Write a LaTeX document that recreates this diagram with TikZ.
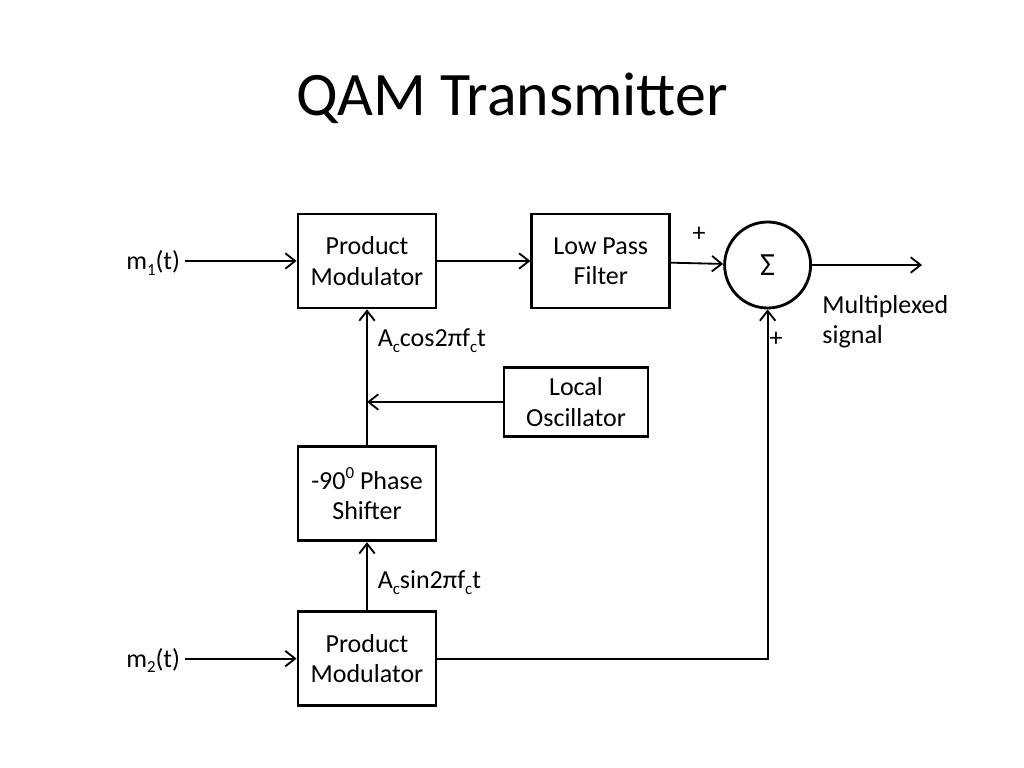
\documentclass[tikz,border=0pt]{standalone}
\usepackage{fontspec}
\setmainfont{Carlito}
\usetikzlibrary{shapes.geometric, arrows.meta, calc, positioning}
\newcommand{\lowsub}[1]{\raisebox{-0.45ex}{\fontsize{12}{12}\selectfont #1}}
\newcommand{\highsup}[1]{\raisebox{0.9ex}{\fontsize{12}{12}\selectfont #1}}
\tikzstyle{block} = [rectangle, line width=2pt, minimum width=3.45cm, minimum height=2.35cm, align=center, draw=black, font=\fontsize{18.5}{21.5}\selectfont]
\tikzstyle{txt} = [inner sep=1pt, font=\fontsize{18.5}{21.5}\selectfont]
\tikzstyle{arrow} = [line width=1.3pt,-{Straight Barb[length=7pt,width=11pt]}]

\begin{document}
\begin{tikzpicture}[node distance = 2.325cm, auto]
	\useasboundingbox (0,0) rectangle (25.6,-19.2);
	\node (title) at (12.8,-2.45) {\fontsize{44}{50}\selectfont QAM Transmitter};
	\node (pm1) [block] at (9.175,-6.525) {Product\\Modulator};
	\node (lpf) [block, right=of pm1] {Low Pass\\Filter};
	\node (sum) [circle, draw, line width=2pt, minimum size=2.15cm, right=1.3cm of lpf, yshift=-0.1cm, font=\fontsize{23}{25}\selectfont] {Σ};
	\node (ps) [block, below=3.4cm of pm1] {-90\highsup{0} Phase\\Shifter};
	\node (pm2) [block, below=1.7cm of ps] {Product\\Modulator};
	\node (lo) [block, minimum width=3.6cm, minimum height=1.725cm] at (14.4,-10.05) {Local\\Oscillator};
	\node (m1) [txt, inner sep=3pt, left=2.8cm of pm1, yshift=-0.05cm] {m\lowsub{1}(t)};
	\node (m2) [txt, inner sep=3pt, left=2.8cm of pm2, yshift=-0.05cm] {m\lowsub{2}(t)};
	\coordinate [right=2.75cm of sum] (out);
	\node (mux) [txt, anchor=west, align=left] at (20.52,-8.05) {Multiplexed\\signal};
	\node (plus1) [txt] at (17.475,-5.85) {+};
	\node (plus2) [txt] at (19.4,-8.475) {+};
%	connectors
	\draw [arrow] (m1.east |- pm1) -- (pm1);
	\draw [arrow] (pm1) -- (lpf);
	\draw [arrow] (lpf) -- (sum);
	\draw [arrow] (sum) -- (out);
	\draw [arrow] (ps) -- node[txt, pos=0.77, right=6pt] {A\lowsub{c}cos2πf\lowsub{c}t} (pm1);
	\draw [arrow] (lo) -- (lo -| ps);
	\draw [arrow] (pm2) -- node[txt, pos=0.41, right=6pt] {A\lowsub{c}sin2πf\lowsub{c}t} (ps);
	\draw [arrow] (m2.east |- pm2) -- (pm2);
	\draw [arrow] (pm2) -| (sum);
\end{tikzpicture}
\end{document}
